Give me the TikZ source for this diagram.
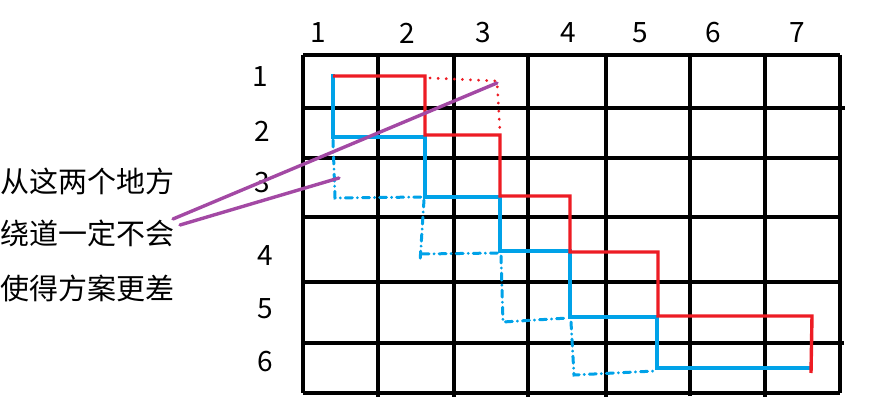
\documentclass[tikz,border=0pt]{standalone}
\usepackage{fontspec}
\setmainfont{Noto Sans CJK SC}
\definecolor{pred}{HTML}{ED1C24}
\definecolor{pblue}{HTML}{00A2E8}
\definecolor{ppurple}{HTML}{A349A4}
\tikzset{
  gridline/.style={line width=3.6pt, black},
  redpath/.style={line width=3.4pt, pred, line join=miter},
  bluepath/.style={line width=3.4pt, pblue, line join=miter},
  reddot/.style={line width=3pt, pred, line cap=round, dash pattern=on 0.1pt off 8pt},
  bluedash/.style={line width=3pt, pblue, line cap=round, dash pattern=on 7pt off 5pt on 0.1pt off 5pt},
  pointer/.style={line width=3.4pt, ppurple, line cap=round},
  numlabel/.style={font=\fontsize{28}{28}\selectfont, inner sep=0pt},
  cnlabel/.style={font=\fontsize{29}{29}\selectfont, inner sep=0pt, anchor=west}
}
\begin{document}
\begin{tikzpicture}[x=1pt,y=-1pt]
\useasboundingbox (0,0) rectangle (884,411);
% grid
\foreach \xx/\yb in {303/393, 378/397, 454/397, 528/397, 606/397, 690/396, 765/397, 840/393}
  \draw[gridline] (\xx,55) -- (\xx,\yb);
\foreach \yy/\xe in {55/840, 108/845, 158/840, 217/840, 282/838, 343/844, 393/840}
  \draw[gridline] (303,\yy) -- (\xe,\yy);
% column labels
\node[numlabel] (c1) at (318,33) {1};
\node[numlabel] (c2) at (407,33) {2};
\node[numlabel] (c3) at (483,33) {3};
\node[numlabel] (c4) at (568,33) {4};
\node[numlabel] (c5) at (640,33) {5};
\node[numlabel] (c6) at (713,33) {6};
\node[numlabel] (c7) at (797,33) {7};
% row labels
\node[numlabel] (r1) at (260,77) {1};
\node[numlabel] (r2) at (262,131) {2};
\node[numlabel] (r3) at (262,183) {3};
\node[numlabel] (r4) at (265,256) {4};
\node[numlabel] (r5) at (265,309) {5};
\node[numlabel] (r6) at (265,362) {6};
% text
\node[cnlabel] (t1) at (0,181) {从这两个地方};
\node[cnlabel] (t2) at (0,233) {绕道一定不会};
\node[cnlabel] (t3) at (0,288) {使得方案更差};
% blue dash-dot detours
\draw[bluedash] (333,140) -- (335,198) -- (422,197);
\draw[bluedash] (424,200) -- (420,262);
\draw[bluedash] (422,254) -- (498,253);
\draw[bluedash] (501,256) -- (503,322) -- (568,318);
\draw[bluedash] (571,322) -- (574,375) -- (655,371);
% red dotted detour
\draw[reddot] (430,78) -- (497,81) -- (500,132);
% blue path
\draw[bluepath] (333,74) -- (333,137) -- (425,137) -- (425,197) -- (500,197) -- (500,251) -- (570,251) -- (570,317) -- (657,317) -- (657,368) -- (810,368);
% red path
\draw[redpath] (333,76) -- (425,76) -- (425,135) -- (500,135) -- (500,196) -- (570,196) -- (570,252) -- (658,252) -- (658,316) -- (812,316) -- (811,373);
% pointers
\coordinate (p1) at (497,83);
\coordinate (p2) at (339,178);
\coordinate (q1) at (173,219);
\coordinate (q2) at (180,225);
\draw[pointer] (q1) -- (p1);
\draw[pointer] (q2) -- (p2);
\end{tikzpicture}
\end{document}
